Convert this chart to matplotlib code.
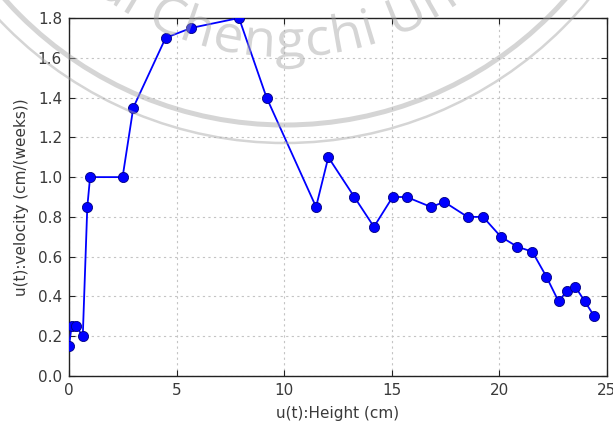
import numpy as np
import matplotlib
matplotlib.use("Agg")
import matplotlib.pyplot as plt
from matplotlib.patches import Arc, PathPatch
from matplotlib.path import Path
from matplotlib.textpath import TextPath
from matplotlib.font_manager import FontProperties
from matplotlib.transforms import IdentityTransform

# Height (cm) and growth velocity (cm/week)
height = [0.0, 0.12, 0.33, 0.64, 0.85, 0.98, 2.49, 2.99, 4.49, 5.68, 7.9,
          9.18, 11.48, 12.05, 13.26, 14.17, 15.04, 15.69, 16.82, 17.44,
          18.52, 19.24, 20.07, 20.83, 21.53, 22.18, 22.75, 23.12, 23.52,
          23.97, 24.41]
velocity = [0.15, 0.25, 0.25, 0.2, 0.85, 1.0, 1.0, 1.35, 1.7, 1.75, 1.8,
            1.4, 0.85, 1.1, 0.9, 0.75, 0.9, 0.9, 0.85, 0.875,
            0.8, 0.8, 0.7, 0.65, 0.625, 0.5, 0.375, 0.425, 0.45,
            0.375, 0.3]

x_ticks = [0, 5, 10, 15, 20, 25]
y_ticks = [0.0, 0.2, 0.4, 0.6, 0.8, 1.0, 1.2, 1.4, 1.6, 1.8]
x_label = "u(t):Height (cm)"
y_label = "u(t):velocity (cm/(weeks))"
seal_text = "National Chengchi University"

W, H, DPI = 613, 425, 100
text_color = "#3a3a3a"

fig = plt.figure(figsize=(W / DPI, H / DPI), dpi=DPI)
ax = fig.add_axes([69 / W, 1 - 376 / H, (607 - 69) / W, (376 - 18) / H])

ax.plot(height, velocity, color="blue", lw=1.3, marker="o", ms=7.3,
        mfc="blue", mec="#000080", mew=0.6, zorder=3)

ax.set_xlim(0, 25)
ax.set_ylim(0, 1.8)
ax.set_xticks(x_ticks)
ax.set_yticks(y_ticks)
ax.set_xticklabels([str(t) for t in x_ticks])
ax.set_yticklabels([f"{t:.1f}" for t in y_ticks])
ax.tick_params(direction="in", length=4, width=0.8, top=True, right=True,
               labelsize=11, labelcolor=text_color, pad=5, color="#222222")
ax.grid(True, color="#c4c4c4", linestyle=(0, (2, 3)), linewidth=0.8)
for sp in ax.spines.values():
    sp.set_color("#222222")
    sp.set_linewidth(1.0)
ax.set_xlabel(x_label, fontsize=11, color=text_color, labelpad=6)
ax.set_ylabel(y_label, fontsize=11, color=text_color, labelpad=6)

# University seal watermark, laid out in pixel coordinates (y up)
cx, cy = 285.0, H + 250.0
wm_color = "#a6a6a6"
wm_alpha = 0.47
for radius, lw in [(375, 3.6), (393, 1.8)]:
    arc = Arc((cx, cy), 2 * radius, 2 * radius, transform=IdentityTransform(),
              color=wm_color, lw=lw, alpha=wm_alpha, zorder=10)
    fig.patches.append(arc)

fp = FontProperties(family="Open Sans")
size_px = 51
stretch = 1.1
tp = TextPath((0, 0), seal_text, size=size_px, prop=fp)
u_mid = stretch * TextPath((0, 0), "National Chen", size=size_px,
                           prop=fp).get_extents().x1 + 14
r_base = 307.0
verts = tp.vertices.copy()
theta = -np.pi / 2 + (stretch * verts[:, 0] - u_mid) / r_base
rad = r_base - verts[:, 1]
warped = np.column_stack([cx + rad * np.cos(theta), cy + rad * np.sin(theta)])
seal = PathPatch(Path(warped, tp.codes), transform=IdentityTransform(),
                 facecolor=wm_color, edgecolor="none", alpha=wm_alpha, zorder=10)
fig.patches.append(seal)

fig.savefig("out.png", dpi=DPI)
